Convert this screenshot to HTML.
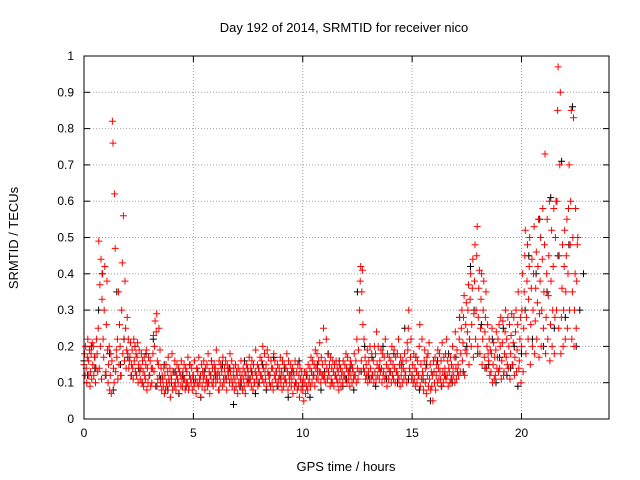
<!DOCTYPE html>
<html><head><meta charset="utf-8"><style>
body{margin:0;background:#fff}
svg{display:block;font-family:"Liberation Sans",sans-serif}
</style></head><body>
<svg id="chart" width="640" height="480" xmlns="http://www.w3.org/2000/svg">
<rect width="640" height="480" fill="#fff"/>
<text x="344" y="32" font-size="13" text-anchor="middle">Day 192 of 2014, SRMTID for receiver nico</text>
<text x="346" y="471" font-size="13" text-anchor="middle">GPS time / hours</text>
<text transform="translate(18,238) rotate(-90)" font-size="13" text-anchor="middle">SRMTID / TECUs</text>
<g id="grid"></g>
<g id="ticks"></g>
<g id="black"></g>
<g id="red"></g>
<rect x="84" y="56" width="525" height="363" fill="none" stroke="#000" stroke-width="1"/>
</svg>
<script>
const xTicks=[0,5,10,15,20];
const yTicks=[0,0.1,0.2,0.3,0.4,0.5,0.6,0.7,0.8,0.9,1];
const yTickLabels=["0","0.1","0.2","0.3","0.4","0.5","0.6","0.7","0.8","0.9","1"];
const redStep=0.1;
const redVals=[
[15,18,12,20],[14,10,17,22],[16,12,19,9],[13,18,11,21],[15,20,12,17],[17,10,14,22],
[18,13,25,49],[14,37,20,44],[11,33,40,22],[17,30,42,12],[13,26,38,19],
[10,15,20,8],[12,18,7,16],[82,76,14,10],[62,47,13,19],[17,22,11,35],
[15,26,20,12],[12,30,43,18],[56,22,16,38],[25,14,19,28],[18,22,14,16],
[17,21,12,15],[19,14,11,22],[16,20,13,18],[12,17,21,10],[15,19,13,11],[14,18,10,16],[13,9,17,12],[11,15,19,8],[14,10,17,12],[12,16,9,14],
[10,14,18,23],[13,20,27,9],[24,29,16,11],[15,25,12,19],[10,14,8,12],
[11,9,14,7],[12,8,15,10],[9,13,17,11],[10,14,6,12],[11,18,8,13],[13,9,16,10],[8,12,15,11],[10,14,7,13],[12,9,16,11],[9,13,11,15],[11,8,14,10],[13,10,17,8],[9,12,15,11],[10,14,8,12],[12,9,16,10],
[11,7,14,10],[13,9,17,11],[10,12,6,15],[9,13,11,16],[12,8,14,10],[11,15,9,18],[10,13,7,12],[12,16,10,14],[9,11,15,13],[14,10,19,12],[11,13,8,16],[12,10,15,14],[13,9,17,11],[10,14,12,16],[11,8,15,13],[12,14,10,18],[13,11,16,9],[10,12,14,8],[11,15,9,13],[12,7,14,10],[9,13,11,16],[10,12,8,14],[11,9,13,7],[12,15,10,14],[13,10,17,11],
[11,14,9,16],[12,8,15,10],[10,13,19,12],[11,15,9,14],[13,10,17,12],[12,16,11,20],[14,10,18,13],[11,15,9,19],[13,17,12,10],[12,9,16,14],[10,14,8,18],[12,16,11,13],[13,10,15,9],[11,14,12,17],[10,13,8,16],[12,9,15,11],[11,14,10,18],[13,8,16,12],[10,12,15,9],[11,14,7,13],[12,9,16,10],[10,13,8,15],[9,12,6,14],[11,8,13,10],[8,11,5,13],
[10,7,13,9],[12,8,15,10],[11,14,9,17],[13,10,16,12],[12,15,9,19],[14,11,18,13],[11,16,13,21],[13,10,17,12],[15,12,25,11],[12,16,10,22],[14,11,18,13],[12,15,9,17],[11,14,10,16],[13,9,15,12],[12,16,11,14],[10,13,8,15],[11,14,9,12],[13,10,16,12],[12,15,11,18],[14,10,17,13],[11,13,9,16],[12,15,10,14],[13,11,18,12],[12,16,10,22],[14,11,19,13],
[30,38,42,16],[35,41,26,14],[22,13,17,11],[15,12,19,10],[13,16,11,20],
[14,11,18,12],[12,16,10,20],[13,18,11,24],[15,12,20,14],[11,16,13,19],[14,10,18,12],[13,17,11,22],[12,15,9,18],[14,11,17,13],[13,16,10,20],[12,15,11,19],[14,10,17,13],[13,18,12,22],[11,15,9,17],[12,14,10,16],[14,11,18,13],[12,16,10,21],[19,25,30,14],[13,17,22,11],[12,15,10,18],
[11,14,9,17],[13,10,16,12],[12,20,26,9],[15,11,22,13],[12,8,16,19],[10,14,7,17],[12,18,9,21],[11,15,8,13],[9,12,5,16],[13,10,17,8],[12,15,10,19],[14,11,18,13],[11,16,9,21],[13,10,17,12],[14,18,11,22],[12,16,9,14],[13,10,17,11],[15,12,20,14],[12,17,10,24],[14,11,19,13],
[15,12,22,28],[13,18,25,30],[16,21,28,34],[12,19,26,32],[18,24,30,37],[15,22,33,40],[20,26,36,44],[17,29,38,48],[22,30,45,53],[20,28,36,41],
[18,25,33,40],[15,22,30,38],[17,24,28,35],[14,20,26,18],[16,22,12,19],[13,18,25,10],[15,21,11,17],[12,19,24,14],[17,22,13,26],[14,20,28,11],
[16,21,27,12],[13,18,24,30],[17,22,15,28],[14,20,26,11],[18,23,29,15],[15,21,28,12],[17,24,30,13],[19,26,35,14],[16,22,28,10],[20,30,40,13],
[25,35,45,52],[18,28,38,48],[22,33,42,50],[15,26,36,44],[20,30,40,53],
[18,27,36,46],[22,32,42,55],[17,29,38,50],[20,30,44,58],[25,35,48,73],
[18,28,40,55],[22,34,45,60],[16,26,38,52],[20,30,42,58],[18,28,50,60],[30,60,85,97],[25,45,70,90],
[18,28,36,48],[20,30,42,52],[22,35,45,55],
[25,40,58,70],[30,48,60,85],[22,35,50,83],[20,30,40,58],[25,38,48,50]
];
const blackStep=0.5;
const blackVals=[
[16,12,20],[14,30,40],[12,18,8],[35,15,22],[17,12,20],[14,10,18],[12,22,9],[11,15,8],[10,13,7],[12,9,15],[11,14,6],[13,10,16],[12,8,15],[11,14,4],[12,9,16],[11,13,7],[10,15,8],[12,17,9],[11,14,6],[13,10,16],[9,12,6],[12,15,8],[13,18,10],[12,16,9],[11,14,8],[35,13,20],[12,17,9],[14,20,11],[13,18,10],[15,25,11],[12,17,8],[11,15,5],[13,16,9],[12,18,10],[17,28,13],[20,42,30],[18,26,14],[15,22,10],[17,25,12],[14,20,9],[18,30,45],[22,40,55],[20,35,61],[25,45,71],[28,48,86],[20,30,40]
];
const NS="http://www.w3.org/2000/svg";
const X0=84,X1=609,XMAX=24,Y0=419,Y1=56;
function sx(h){return X0+(X1-X0)*h/XMAX;}
function sy(v){return Y0-(Y0-Y1)*v;}
function mk(tag,attrs,parent){const e=document.createElementNS(NS,tag);for(const k in attrs)e.setAttribute(k,attrs[k]);parent.appendChild(e);return e;}
const grid=document.getElementById('grid'),ticks=document.getElementById('ticks');
yTicks.forEach((v,i)=>{
  const y=sy(v);
  if(i>0&&i<yTicks.length-1){const g=mk('line',{x1:X0,x2:X1,y1:y,y2:y,stroke:'#a0a0a0','stroke-dasharray':'1,2'},grid);
  
  }
  mk('line',{x1:X0,x2:X0+6,y1:y,y2:y,stroke:'#000'},ticks);
  mk('line',{x1:X1-6,x2:X1,y1:y,y2:y,stroke:'#000'},ticks);
  const t=mk('text',{x:X0-10,y:y+4,'font-size':12,'text-anchor':'end'},ticks);
  t.textContent=yTickLabels[i];
  
  
});
xTicks.forEach(h=>{
  const x=sx(h);
  if(h>0){const g=mk('line',{x1:x,x2:x,y1:Y1,y2:Y0,stroke:'#a0a0a0','stroke-dasharray':'1,2'},grid);
  
  }
  mk('line',{x1:x,x2:x,y1:Y0,y2:Y0-6,stroke:'#000'},ticks);
  mk('line',{x1:x,x2:x,y1:Y1,y2:Y1+6,stroke:'#000'},ticks);
  const t=mk('text',{x:x,y:Y0+18,'font-size':12,'text-anchor':'middle'},ticks);
  t.textContent=String(h);
  
  
});
function plot(vals,step,g,color,name){
  let d='';
  vals.forEach((row,i)=>{
    row.forEach((v,j)=>{
      const h=i*step+j*step/row.length;
      const x=sx(h),y=sy(v/100);
      d+=`M${(x-3.5).toFixed(1)} ${y.toFixed(1)}h7M${x.toFixed(1)} ${(y-3.5).toFixed(1)}v7`;
    });
  });
  const p=mk('path',{d:d,stroke:color,'stroke-width':1,fill:'none'},g);
  
  
}
plot(blackVals,blackStep,document.getElementById('black'),'#000','black-points');
plot(redVals,redStep,document.getElementById('red'),'#ff0000','red-points');
</script>
</body></html>
